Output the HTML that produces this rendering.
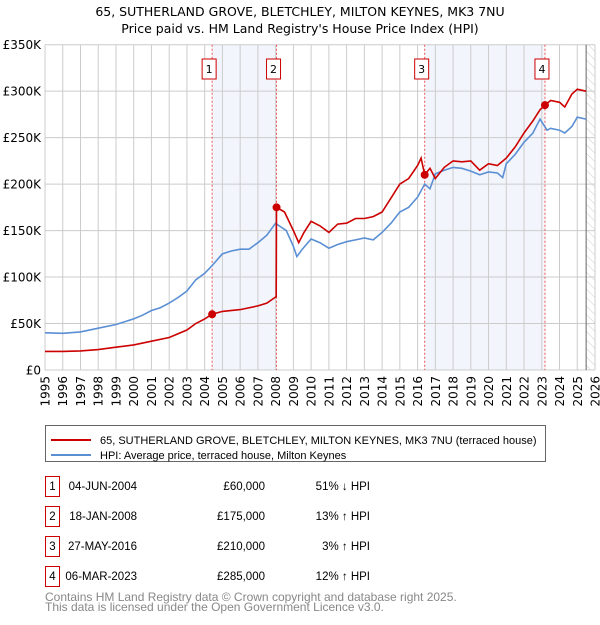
<!DOCTYPE html>
<html><head><meta charset="utf-8"><style>
body{margin:0;background:#fff;font-family:"Liberation Sans","DejaVu Sans",sans-serif;}
svg text{font-family:"DejaVu Sans","Liberation Sans",sans-serif;}
svg text.lib{font-family:"Liberation Sans","DejaVu Sans",sans-serif;}
</style></head><body>
<svg id="c" width="600" height="620" xmlns="http://www.w3.org/2000/svg"></svg>
<script>
const hpiYears=[1995,1996,1997,1998,1999,2000,2000.5,2001,2001.5,2002,2002.5,2003,2003.5,2004,2004.3,2004.5,2005,2005.5,2006,2006.5,2007,2007.5,2008,2008.2,2008.6,2009,2009.2,2009.5,2010,2010.5,2011,2011.5,2012,2012.5,2013,2013.5,2014,2014.5,2015,2015.5,2016,2016.4,2016.7,2017,2017.5,2018,2018.5,2019,2019.5,2020,2020.5,2020.8,2021,2021.5,2022,2022.5,2022.9,2023.3,2023.5,2024,2024.3,2024.7,2025,2025.5];
const hpiValues=[40,39.5,41,45,49,55,59,64,67,72,78,85,97,104,110,114,125,128,130,130,137,145,158,155,150,133,122,130,141,137,131,135,138,140,142,140,148,158,170,175,186,200,195,211,215,218,217,214,210,213,212,207,222,232,245,255,270,258,260,258,255,262,272,270];
const ppYears=[1995,1996,1997,1998,1999,2000,2001,2002,2003,2003.5,2004,2004.42,2005,2006,2007,2007.5,2008.03,2008.05,2008.5,2009,2009.3,2009.6,2010,2010.5,2011,2011.5,2012,2012.5,2013,2013.5,2014,2014.5,2015,2015.5,2016,2016.2,2016.4,2016.7,2017,2017.5,2018,2018.5,2019,2019.5,2020,2020.5,2021,2021.5,2022,2022.5,2022.9,2023.18,2023.5,2024,2024.3,2024.7,2025,2025.5];
const ppValues=[20,20,20.5,22,24.5,27,31,35,43,50,55,60,63,65,69,72,79,175,170,150,137,148,160,155,148,157,158,163,163,165,170,185,200,206,220,228,210,217,206,218,225,224,225,215,222,220,228,240,255,268,280,285,290,288,283,297,302,300];
const saleYears=[2004.42,2008.05,2016.4,2023.18];
const saleValues=[60,175,210,285];
const saleLabels=["1","2","3","4"];
const yTicks=[0,50,100,150,200,250,300,350];
const yTickLabels=["£0","£50K","£100K","£150K","£200K","£250K","£300K","£350K"];
const xTicks=[1995,1996,1997,1998,1999,2000,2001,2002,2003,2004,2005,2006,2007,2008,2009,2010,2011,2012,2013,2014,2015,2016,2017,2018,2019,2020,2021,2022,2023,2024,2025,2026];

const L=45,R=595,T=44.7,B=370;
const X=y=>L+(y-1995)*(R-L)/31;
const Y=v=>B-v*(B-T)/350;
const s=document.getElementById('c');
const NS="http://www.w3.org/2000/svg";
function mk(tag,a,parent){const e=document.createElementNS(NS,tag);for(const k in a)e.setAttribute(k,a[k]);(parent||s).appendChild(e);return e;}

let t=mk('text',{x:300,y:16,'text-anchor':'middle','font-size':12.5,fill:'#000'});t.textContent="65, SUTHERLAND GROVE, BLETCHLEY, MILTON KEYNES, MK3 7NU";

t=mk('text',{x:300,y:33,'text-anchor':'middle','font-size':12.5,fill:'#000'});t.textContent="Price paid vs. HM Land Registry's House Price Index (HPI)";


for(const [a,b] of [[0,1],[2,3]]){
 const r=mk('rect',{x:X(saleYears[a]),y:T,width:X(saleYears[b])-X(saleYears[a]),height:B-T,fill:'#edf2fb',opacity:0.75});
 
}
const defs=mk('defs',{});
const pat=mk('pattern',{id:'h',width:6,height:6,patternUnits:'userSpaceOnUse',patternTransform:'rotate(-45)'},defs);
mk('line',{x1:0,y1:0,x2:0,y2:6,stroke:'#ccc','stroke-width':1},pat);
let hr=mk('rect',{x:X(2025.5),y:T,width:R-X(2025.5),height:B-T,fill:'url(#h)'});


yTicks.forEach((v,i)=>{
 const g=mk('line',{x1:L,x2:R,y1:Y(v),y2:Y(v),stroke:'#ccc','stroke-width':1});
 
 const tx=mk('text',{x:L-4,y:Y(v)+4.5,'text-anchor':'end','font-size':12,fill:'#000'});tx.textContent=yTickLabels[i];
 
});
xTicks.forEach(y=>{
 const g=mk('line',{x1:X(y),x2:X(y),y1:T,y2:B,stroke:'#ccc','stroke-width':1});
 
 const tx=mk('text',{x:0,y:0,'text-anchor':'end','font-size':12,fill:'#000',transform:`translate(${X(y)+4.5},376) rotate(-90)`});tx.textContent=y;
 
});
let nl=mk('line',{x1:X(2025.5),x2:X(2025.5),y1:T,y2:B,stroke:'#666','stroke-width':1});


saleYears.forEach((y,i)=>{
 const l=mk('line',{x1:X(y),x2:X(y),y1:T,y2:B,stroke:'#e55','stroke-width':1,'stroke-dasharray':'2,2'});
 
 const bx=mk('rect',{x:X(y)-10,y:59,width:14,height:20,fill:'#fff',stroke:'#c00','stroke-width':1});
 
 const tx=mk('text',{x:X(y)-3,y:73,'text-anchor':'middle','font-size':11,fill:'#000'});tx.textContent=saleLabels[i];
 
});

function path(xs,vs){return xs.map((x,i)=>(i?'L':'M')+X(x).toFixed(1)+','+Y(vs[i]).toFixed(1)).join('');}
let p=mk('path',{d:path(hpiYears,hpiValues),fill:'none',stroke:'#5b8fd4','stroke-width':1.6});

p=mk('path',{d:path(ppYears,ppValues),fill:'none',stroke:'#cc0000','stroke-width':1.6});

saleYears.forEach((y,i)=>{
 const c=mk('circle',{cx:X(y),cy:Y(saleValues[i]),r:4,fill:'#cc0000'});
 
});

let lg=mk('rect',{x:45.5,y:425.5,width:500,height:36,fill:'#fff',stroke:'#666','stroke-width':1});

mk('line',{x1:51,x2:91,y1:440,y2:440,stroke:'#cc0000','stroke-width':2});
mk('line',{x1:51,x2:91,y1:455,y2:455,stroke:'#5b8fd4','stroke-width':2});
t=mk('text',{x:100,y:444,'font-size':11,fill:'#000',class:'lib'});t.textContent="65, SUTHERLAND GROVE, BLETCHLEY, MILTON KEYNES, MK3 7NU (terraced house)";

t=mk('text',{x:100,y:459,'font-size':11,fill:'#000',class:'lib'});t.textContent="HPI: Average price, terraced house, Milton Keynes";


const dates=["04-JUN-2004","18-JAN-2008","27-MAY-2016","06-MAR-2023"];
const prices=["£60,000","£175,000","£210,000","£285,000"];
const pcts=["51% ↓ HPI","13% ↑ HPI","3% ↑ HPI","12% ↑ HPI"];
dates.forEach((d,i)=>{
 const y0=476+i*30;
 const b=mk('rect',{x:45.5,y:y0+0.5,width:14,height:20,fill:'#fff',stroke:'#c00','stroke-width':1});
 
 const cells=[[52.5,'middle',saleLabels[i]],[137,'end',d],[265,'end',prices[i]],[370,'end',pcts[i]]];
 cells.forEach(c=>{const tx=mk('text',{x:c[0],y:y0+14,'text-anchor':c[1],'font-size':11.5,fill:'#000',class:'lib'});tx.textContent=c[2];
 });
});
t=mk('text',{x:45,y:601,'font-size':12,fill:'#888',class:'lib'});t.textContent="Contains HM Land Registry data © Crown copyright and database right 2025.";

t=mk('text',{x:45,y:611,'font-size':12,fill:'#888',class:'lib'});t.textContent="This data is licensed under the Open Government Licence v3.0.";

</script>
</body></html>
